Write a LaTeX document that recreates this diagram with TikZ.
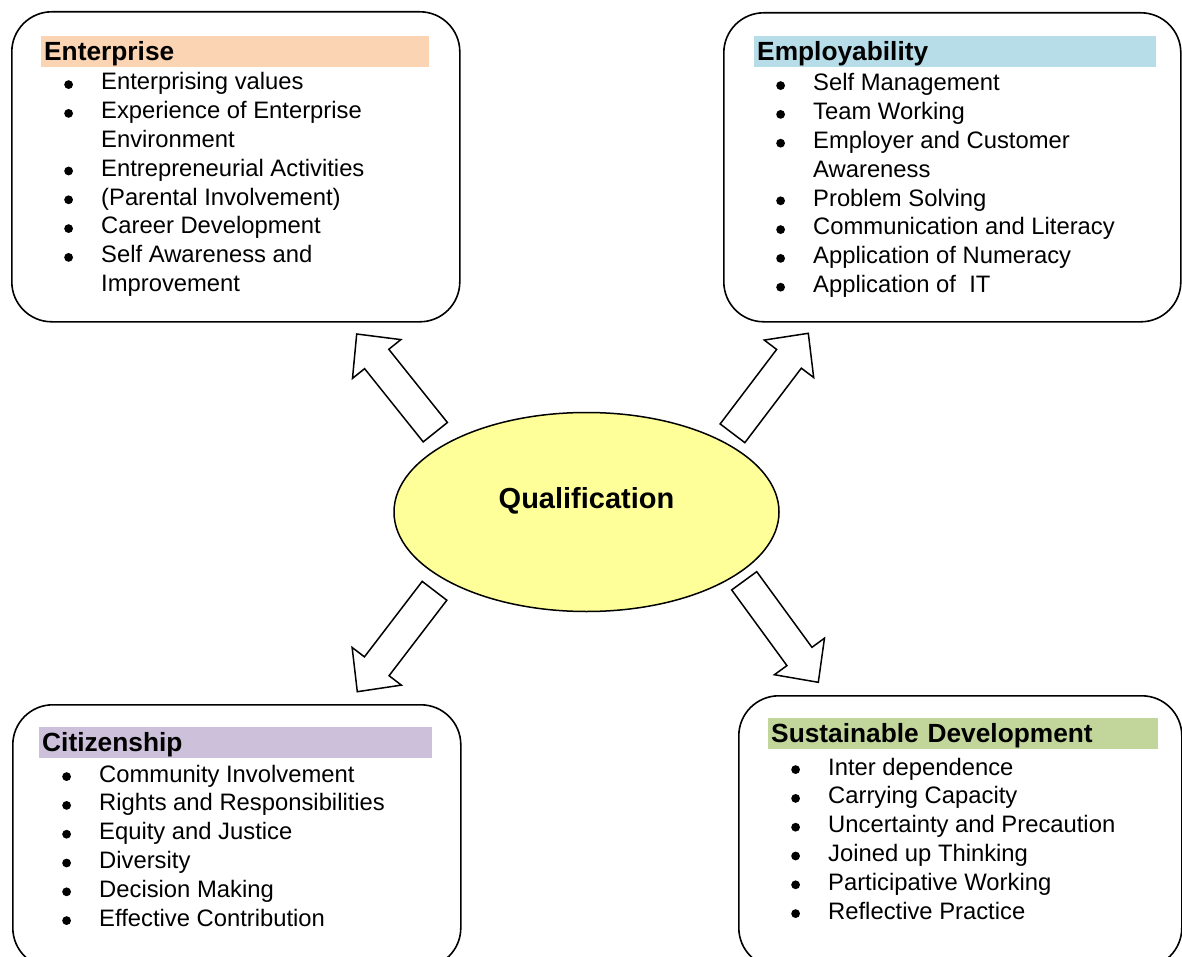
\documentclass[tikz,border=0pt]{standalone}
\usepackage{fontspec}
\setmainfont{Liberation Sans}
\usetikzlibrary{shapes.geometric,calc}

\definecolor{entpeach}{HTML}{FBD4B4}
\definecolor{empblue}{HTML}{B6DDE8}
\definecolor{citlilac}{HTML}{CCC0DA}
\definecolor{susgreen}{HTML}{C2D69B}
\definecolor{qualyellow}{HTML}{FFFF99}

\tikzset{
  topicbox/.style={draw, line width=1.6pt, rounded corners=40pt, inner sep=0pt, anchor=north west},
  headbar/.style={anchor=north west, inner xsep=3pt, inner ysep=1pt, text height=23pt, text depth=6pt,
    align=left, font=\fontsize{26.3}{30}\selectfont\bfseries},
  itemlist/.style={anchor=base west, inner sep=0pt, font=\fontsize{23.8}{28.8}\selectfont},
  qarrow/.style={draw, fill=white, line width=1.5pt, line join=miter},
  core/.style={ellipse, draw, fill=qualyellow, line width=1.5pt, inner sep=0pt,
    minimum width=385pt, minimum height=199pt, text height=21pt, text depth=29pt,
    font=\fontsize{29}{34}\selectfont\bfseries}
}

% outlined block arrow, tail #1 to tip #2
\newcommand\blockarrow[2]{%
  \coordinate (neck) at ($(#2)!32pt!(#1)$);
  \draw[qarrow] ($(#1)!15.5pt!90:(#2)$) -- ($(neck)!15.5pt!90:(#2)$)
    -- ($(neck)!31pt!90:(#2)$) -- (#2) -- ($(neck)!31pt!-90:(#2)$)
    -- ($(neck)!15.5pt!-90:(#2)$) -- ($(#1)!15.5pt!-90:(#2)$) -- cycle;}

\newcommand\dotmark{\tikz[baseline=0pt]\fill (5.5pt,5.4pt) circle [radius=4.4pt];}
\newcommand\bulletrows[1]{\begin{tabular}[t]{@{}p{37pt}@{}l@{}}#1\end{tabular}}

\begin{document}
\begin{tikzpicture}[x=1pt, y=-1pt]
    \useasboundingbox (0,0) rectangle (1182,957);
    \clip (0,0) rectangle (1182,957);

    % the four topic boxes
    \node [topicbox, minimum width=448pt, minimum height=310pt] (ent) at (11,11) {};
    \node [topicbox, minimum width=457pt, minimum height=309pt] (emp) at (723,12) {};
    \node [topicbox, minimum width=448pt, minimum height=263pt] (cit) at (12,704) {};
    \node [topicbox, minimum width=443pt, minimum height=272pt] (sus) at (738,695) {};

    \node [headbar, fill=entpeach, text width=382pt] (ent-head) at (41,36) {Enterprise};
    \node [headbar, fill=empblue, text width=396pt] (emp-head) at (754,36) {Employability};
    \node [headbar, fill=citlilac, text width=387pt] (cit-head) at (39,727) {Citizenship};
    \node [headbar, fill=susgreen, text width=384pt] (sus-head) at (768,718) {Sustainable Development};

    \node [itemlist] (ent-items) at (64,90) {\bulletrows{%
        \dotmark & Enterprising values\\
        \dotmark & Experience of Enterprise\\
                 & Environment\\
        \dotmark & Entrepreneurial Activities\\
        \dotmark & (Parental Involvement)\\
        \dotmark & Career Development\\
        \dotmark & Self Awareness and\\
                 & Improvement}};

    \node [itemlist] (emp-items) at (776,91) {\bulletrows{%
        \dotmark & Self Management\\
        \dotmark & Team Working\\
        \dotmark & Employer and Customer\\
                 & Awareness\\
        \dotmark & Problem Solving\\
        \dotmark & Communication and Literacy\\
        \dotmark & Application of Numeracy\\
        \dotmark & Application of\ \ IT}};

    \node [itemlist] (cit-items) at (62,782) {\bulletrows{%
        \dotmark & Community Involvement\\
        \dotmark & Rights and Responsibilities\\
        \dotmark & Equity and Justice\\
        \dotmark & Diversity\\
        \dotmark & Decision Making\\
        \dotmark & Effective Contribution}};

    \node [itemlist] (sus-items) at (791,775) {\bulletrows{%
        \dotmark & Inter dependence\\
        \dotmark & Carrying Capacity\\
        \dotmark & Uncertainty and Precaution\\
        \dotmark & Joined up Thinking\\
        \dotmark & Participative Working\\
        \dotmark & Reflective Practice}};

    % centre
    \node [core] (qual) at (586.5,512) {Qualification};

    % arrows out of the centre
    \coordinate (ent-tail) at (435.3,432.2);
    \coordinate (ent-tip) at (356.7,334);
    \coordinate (emp-tail) at (732.5,433.3);
    \coordinate (emp-tip) at (808.3,333.3);
    \coordinate (cit-tail) at (434.5,590.8);
    \coordinate (cit-tip) at (357.3,691.7);
    \coordinate (sus-tail) at (744.2,580.8);
    \coordinate (sus-tip) at (818.3,682.3);

    \blockarrow{ent-tail}{ent-tip}
    \blockarrow{emp-tail}{emp-tip}
    \blockarrow{cit-tail}{cit-tip}
    \blockarrow{sus-tail}{sus-tip}
\end{tikzpicture}
\end{document}
